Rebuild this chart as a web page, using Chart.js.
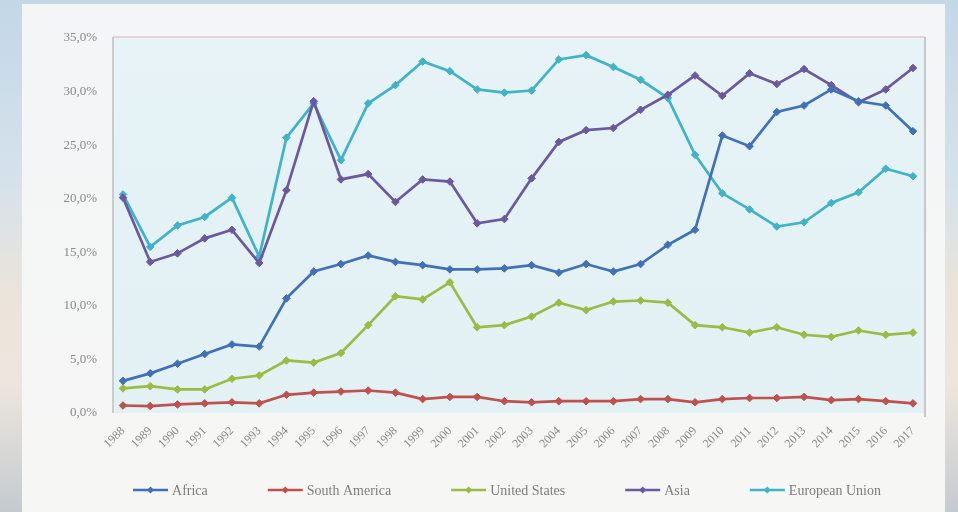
<!DOCTYPE html>
<html><head><meta charset="utf-8">
<script src="https://cdn.jsdelivr.net/npm/chart.js@4"></script>
<style>
html,body{margin:0;padding:0;width:958px;height:512px;overflow:hidden;}
body{background:linear-gradient(to bottom,#c3d7e7 0%,#d5e2eb 35%,#ebe4da 58%,#ece6de 75%,#c5cacf 100%);position:relative;}
#panel{position:absolute;left:22px;top:4px;width:923px;height:508px;background:linear-gradient(to bottom,#f3f5f6,#f6f6f5);}
#wrap{position:absolute;left:0;top:0;width:958px;height:512px;}
</style></head><body>
<div id="panel"></div>
<div id="wrap"><canvas id="c" width="958" height="512"></canvas></div>
<script>
const years = ['1988','1989','1990','1991','1992','1993','1994','1995','1996','1997','1998','1999','2000','2001','2002','2003','2004','2005','2006','2007','2008','2009','2010','2011','2012','2013','2014','2015','2016','2017'];
const africa = [3.0,3.7,4.6,5.5,6.4,6.2,10.7,13.2,13.9,14.7,14.1,13.8,13.4,13.4,13.5,13.8,13.1,13.9,13.2,13.9,15.7,17.1,25.9,24.9,28.1,28.7,30.2,29.1,28.7,26.3];
const southAmerica = [0.7,0.65,0.8,0.9,1.0,0.9,1.7,1.9,2.0,2.1,1.9,1.3,1.5,1.5,1.1,1.0,1.1,1.1,1.1,1.3,1.3,1.0,1.3,1.4,1.4,1.5,1.2,1.3,1.1,0.9];
const unitedStates = [2.3,2.5,2.2,2.2,3.2,3.5,4.9,4.7,5.6,8.2,10.9,10.6,12.2,8.0,8.2,9.0,10.3,9.6,10.4,10.5,10.3,8.2,8.0,7.5,8.0,7.3,7.1,7.7,7.3,7.5];
const asia = [20.1,14.1,14.9,16.3,17.1,14.0,20.8,29.1,21.8,22.3,19.7,21.8,21.6,17.7,18.1,21.9,25.3,26.4,26.6,28.3,29.7,31.5,29.6,31.7,30.7,32.1,30.6,29.0,30.2,32.2];
const europeanUnion = [20.4,15.5,17.5,18.3,20.1,14.6,25.7,28.9,23.6,28.9,30.6,32.8,31.9,30.2,29.9,30.1,33.0,33.4,32.3,31.1,29.4,24.1,20.5,19.0,17.4,17.8,19.6,20.6,22.8,22.1];
const seriesNames = ['Africa','South America','United States','Asia','European Union'];
const yTicks = [0,5,10,15,20,25,30,35];

const colors = ['#3f70b8','#c0504d','#9bbb45','#6a599e','#3fb3c8'];
const allData = [africa, southAmerica, unitedStates, asia, europeanUnion];

const datasets = allData.map((d,i)=>({
  label: seriesNames[i],
  data: d,
  borderColor: colors[i],
  backgroundColor: colors[i],
  borderWidth: 2.7,
  pointStyle: 'rectRot',
  pointRadius: 3.8,
  pointBorderWidth: 1,
  tension: 0,
  fill: false
}));

const serif = '"Liberation Serif","DejaVu Serif",serif';

const plotDeco = {
  id:'plotDeco',
  beforeDraw(chart){
    const {ctx, chartArea:a} = chart;
    ctx.save();
    const g = ctx.createLinearGradient(0,a.top,0,a.bottom);
    g.addColorStop(0,'#e7f3f6');
    g.addColorStop(1,'#e2f1f4');
    ctx.fillStyle = g;
    ctx.fillRect(a.left-10, a.top, a.right-a.left+22, a.bottom-a.top);
    ctx.restore();
  },
  afterDraw(chart){
    const {ctx, chartArea:a} = chart;
    ctx.save();
    ctx.lineWidth = 1.5;
    ctx.strokeStyle = '#e6c6cc';
    ctx.beginPath(); ctx.moveTo(a.left-10, a.top-1); ctx.lineTo(a.right+12, a.top-1); ctx.stroke();
    ctx.strokeStyle = '#c2bcc0';
    ctx.beginPath(); ctx.moveTo(a.left-10, a.top-1); ctx.lineTo(a.left-10, a.bottom); ctx.stroke();
    ctx.strokeStyle = '#b8b8bc';
    ctx.beginPath(); ctx.moveTo(a.right+12, a.top-1); ctx.lineTo(a.right+12, a.bottom+4); ctx.stroke();

    // custom legend: line + diamond + label
    ctx.font = '14px ' + serif;
    ctx.textBaseline = 'middle';
    const lineW = 35, gapText = 4, gapItem = 60, cy = 490;
    const items = chart.data.datasets.map((ds,i)=>({text:ds.label, color:colors[i], w:ctx.measureText(ds.label).width}));
    const total = items.reduce((s,it)=>s+lineW+gapText+it.w,0) + gapItem*(items.length-1);
    let x = (a.left-10 + a.right+12)/2 - total/2 - 12;
    items.forEach(it=>{
      ctx.strokeStyle = it.color; ctx.lineWidth = 2.5;
      ctx.beginPath(); ctx.moveTo(x, cy); ctx.lineTo(x+lineW, cy); ctx.stroke();
      const cx = x + lineW/2, r = 3.5;
      ctx.fillStyle = it.color;
      ctx.beginPath(); ctx.moveTo(cx, cy-r); ctx.lineTo(cx+r, cy); ctx.lineTo(cx, cy+r); ctx.lineTo(cx-r, cy); ctx.closePath(); ctx.fill();
      ctx.fillStyle = '#7d7d7d';
      ctx.textAlign = 'left';
      ctx.fillText(it.text, x+lineW+gapText, cy+1);
      x += lineW + gapText + it.w + gapItem;
    });
    ctx.restore();
  }
};

new Chart(document.getElementById('c'), {
  type:'line',
  data:{labels: years, datasets},
  options:{
    responsive:false,
    animation:false,
    layout:{padding:{left:22,top:38,right:45,bottom:37}},
    plugins:{
      tooltip:{enabled:false},
      legend:{display:false}
    },
    scales:{
      x:{
        offset:false,
        grid:{display:false, drawTicks:false},
        border:{display:false},
        ticks:{autoSkip:false, maxRotation:45, minRotation:45, padding:11, color:'#8a8a8a', font:{family:serif,size:12}},
        afterFit(s){ s.height = 62; }
      },
      y:{
        min:0, max:35,
        grid:{display:false, drawTicks:false},
        border:{display:false},
        afterBuildTicks(s){ s.ticks = yTicks.map(v=>({value:v})); },
        ticks:{padding:26, color:'#8a8a8a', font:{family:serif,size:13},
          callback:v=>v.toFixed(1).replace('.',',')+'%'},
        afterFit(s){ s.width = 101; }
      }
    }
  },
  plugins:[plotDeco]
});
</script>
</body></html>
